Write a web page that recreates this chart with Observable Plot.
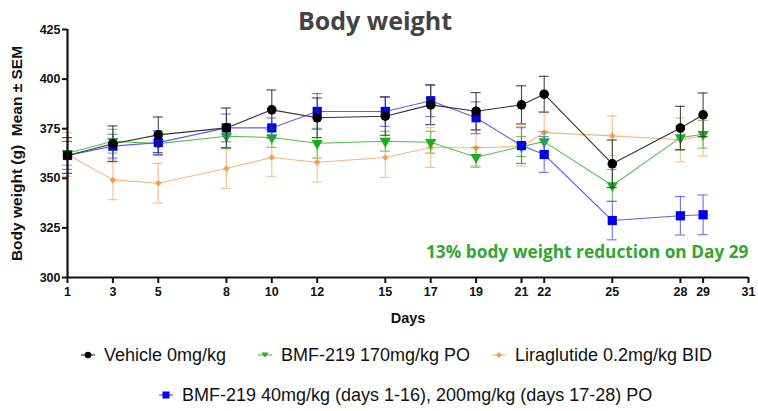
<!DOCTYPE html>
<html>
<head>
<meta charset="utf-8">
<script src="https://cdn.jsdelivr.net/npm/d3@7"></script>
<script src="https://cdn.jsdelivr.net/npm/@observablehq/plot@0.6"></script>
<style>
  html, body { margin: 0; padding: 0; background: #fff; }
  #wrap { position: relative; width: 758px; height: 411px; overflow: hidden; font-family: "Liberation Sans", Arial, sans-serif; }
  #title { position: absolute; left: 0; top: 3px; width: 750px; text-align: center; font-family: "Open Sans", sans-serif; font-weight: 700; font-size: 25px; color: #444; line-height: 34px; }
  #chart { position: absolute; left: 0; top: 0; }
  .leg { position: absolute; display: flex; align-items: center; font-size: 18px; color: #111; white-space: nowrap; height: 24px; }
  .leg svg { margin-right: 7px; }
</style>
</head>
<body>
<div id="wrap">
  <div id="chart"></div>
  <div id="title">Body weight</div>
  <div id="legend"></div>
</div>
<script>
const days = [1, 3, 5, 8, 10, 12, 15, 17, 19, 21, 22, 25, 28, 29];
const xTicks = [1, 3, 5, 8, 10, 12, 15, 17, 19, 21, 22, 25, 28, 29, 31];
const yTicks = [300, 325, 350, 375, 400, 425];

const seriesNames = [
  "Vehicle 0mg/kg",
  "BMF-219 170mg/kg PO",
  "Liraglutide 0.2mg/kg BID",
  "BMF-219 40mg/kg (days 1-16), 200mg/kg (days 17-28) PO"
];

const vehicleMean = [361.5, 367.4, 371.9, 375.4, 384.5, 380.5, 381.3, 387.0, 383.8, 387.0, 392.4, 357.3, 375.3, 382.0];
const vehicleSem  = [9, 9, 9, 10, 10, 10, 9.6, 10, 9.4, 9.6, 9, 12, 11, 11];

const bmf170Mean = [362.6, 368.7, 367.5, 371.2, 370.6, 367.7, 368.7, 368.2, 360.6, 366.0, 368.5, 346.4, 370.5, 372.2];
const bmf170Sem  = [6, 6, 6, 6, 5, 7.5, 5, 5.5, 5, 5, 5, 8, 6, 7];

const liraMean = [362.0, 349.2, 347.5, 354.9, 360.5, 358.1, 360.5, 365.5, 365.3, 366.2, 373.0, 371.4, 369.4, 371.2];
const liraSem  = [11, 10, 10, 10, 9.5, 10, 10, 10, 9, 10, 10, 10, 11, 10];

const bmf40Mean = [361.5, 366.2, 368.0, 375.4, 375.4, 383.7, 383.7, 389.1, 380.5, 366.5, 362.0, 328.7, 331.1, 331.6];
const bmf40Sem  = [7, 6, 6, 7, 5, 9, 7.5, 8, 8, 9, 9, 9.7, 9.7, 10];

const annotation = "13% body weight reduction on Day 29";

const styles = [
  { name: seriesNames[2], mean: liraMean, sem: liraSem, fill: "#f4a14f", line: "#f7b77a", symbol: "diamond2", r: 3, rotate: 0 },
  { name: seriesNames[1], mean: bmf170Mean, sem: bmf170Sem, fill: "#19b019", line: "#52c052", symbol: "triangle", r: 4.2, rotate: 180 },
  { name: seriesNames[3], mean: bmf40Mean, sem: bmf40Sem, fill: "#0000ee", line: "#6060ee", symbol: "square", r: 5.2, rotate: 0 },
  { name: seriesNames[0], mean: vehicleMean, sem: vehicleSem, fill: "#000000", line: "#333333", symbol: "circle", r: 4.8, rotate: 0 }
];

const marks = [];
for (const s of styles) {
  const data = days.map((d, i) => ({ day: d, mean: s.mean[i], sem: s.sem[i] }));
  marks.push(Plot.ruleX(data, { x: "day", y1: d => d.mean - d.sem, y2: d => d.mean + d.sem, stroke: s.line, strokeWidth: 1.1, strokeOpacity: 0.9 }));
  marks.push(Plot.ruleY(data, { y: d => d.mean + d.sem, x1: d => d.day - 0.22, x2: d => d.day + 0.22, stroke: s.line, strokeWidth: 1.1, strokeOpacity: 0.9 }));
  marks.push(Plot.ruleY(data, { y: d => d.mean - d.sem, x1: d => d.day - 0.22, x2: d => d.day + 0.22, stroke: s.line, strokeWidth: 1.1, strokeOpacity: 0.9 }));
  marks.push(Plot.line(data, { x: "day", y: "mean", stroke: s.line, strokeWidth: 1.1 }));
  marks.push(Plot.dot(data, { x: "day", y: "mean", symbol: s.symbol, r: s.r, rotate: s.rotate, fill: s.fill, stroke: "none" }));
}

const chart = Plot.plot({
  width: 758,
  height: 340,
  marginLeft: 67,
  marginRight: 10,
  marginTop: 29,
  marginBottom: 63,
  style: { background: "transparent", fontFamily: "'Liberation Sans', Arial, sans-serif", color: "#111" },
  x: { type: "linear", domain: [1, 31] },
  y: { domain: [300, 425] },
  marks: [
    ...marks,
    Plot.ruleY([300], { stroke: "#111", strokeWidth: 2.2 }),
    Plot.ruleX([1], { stroke: "#111", strokeWidth: 2.2 }),
    Plot.axisX({ ticks: xTicks, tickFormat: d => String(d), tickSize: 6, tickPadding: 4, fontSize: 12.5, fontWeight: "bold", strokeWidth: 2, label: null }),
    Plot.axisY({ ticks: yTicks, tickFormat: d => String(d), tickSize: 5, tickPadding: 2, fontSize: 12.5, fontWeight: "bold", strokeWidth: 2, label: null }),
    Plot.text(["Body weight (g)  Mean \u00b1 SEM"], { frameAnchor: "left", textAnchor: "middle", lineAnchor: "middle", dx: -50, rotate: -90, fontSize: 15.5, fontWeight: "bold", fill: "#111" }),
    Plot.text(["Days"], { frameAnchor: "bottom", lineAnchor: "middle", dy: 41, fontSize: 14.5, fontWeight: "bold", fill: "#111" }),
    Plot.text([annotation], { frameAnchor: "bottom-right", textAnchor: "end", lineAnchor: "middle", dy: -25, fontSize: 17.3, fontWeight: "bold", fontFamily: "'Open Sans', sans-serif", fill: "#2ea82e" })
  ]
});
document.getElementById("chart").appendChild(chart);

// Legend
const legendOrder = [styles[3], styles[1], styles[0], styles[2]];
const legendPos = [{ left: 79, top: 343 }, { left: 256, top: 343 }, { left: 490, top: 343 }, { left: 157, top: 383 }];
const legend = document.getElementById("legend");
const symbolPaths = {
  circle: '<circle cx="9" cy="12" r="3.3" />',
  triangle: '<path d="M5.5,9.5 L12.5,9.5 L9,14.5 Z" />',
  diamond2: '<path d="M9,9 L12,12 L9,15 L6,12 Z" />',
  square: '<rect x="5.5" y="8.5" width="7" height="7" />'
};
legendOrder.forEach((s, i) => {
  const p = legendPos[i];
  const div = document.createElement("div");
  div.className = "leg";
  div.style.left = p.left + "px";
  div.style.top = p.top + "px";
  div.innerHTML = '<svg width="18" height="24"><line x1="2" x2="16" y1="12" y2="12" stroke="' + s.line + '" stroke-width="1.2"/><g fill="' + s.fill + '">' + symbolPaths[s.symbol] + '</g></svg><span>' + s.name + '</span>';
  legend.appendChild(div);
});
</script>
</body>
</html>
